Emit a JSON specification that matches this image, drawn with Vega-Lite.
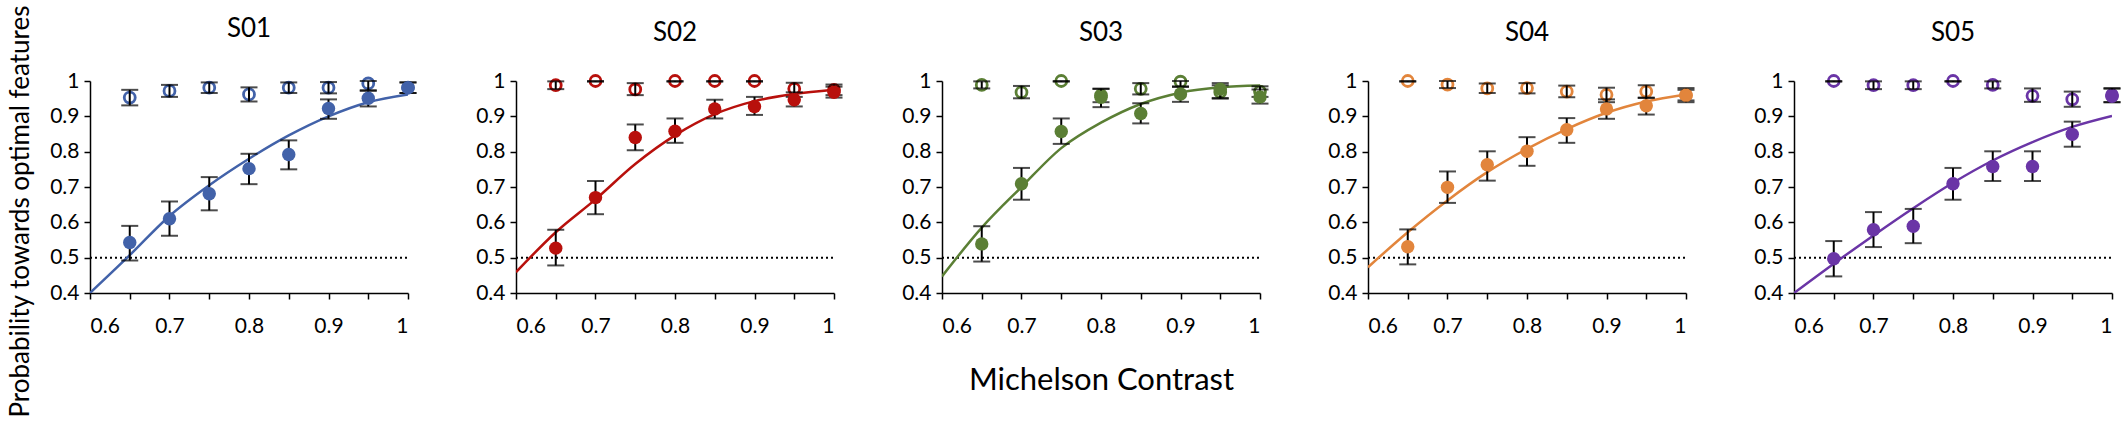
{
  "$schema": "https://vega.github.io/schema/vega-lite/v6.json",
  "background": "white",
  "padding": {"left": 6, "top": 4, "right": 5, "bottom": 5},
  "config": {
    "font": "Lato",
    "view": {"stroke": null},
    "axis": {
      "grid": false,
      "domainColor": "black",
      "domainWidth": 1.5,
      "tickColor": "black",
      "tickWidth": 1.5,
      "tickSize": 6,
      "labelFont": "Lato",
      "labelFontSize": 21,
      "labelColor": "black",
      "titleFont": "Lato",
      "titleColor": "black",
      "titleFontWeight": "normal"
    },
    "title": {"font": "Lato", "fontSize": 26, "fontWeight": "normal", "color": "black", "baseline": "alphabetic", "frame": "group", "offset": 24}
  },
  "data": {
    "values": [
      {"s": "S01", "t": "filled", "x": 0.65, "y": 0.543, "lo": 0.492, "hi": 0.59},
      {"s": "S01", "t": "filled", "x": 0.7, "y": 0.61, "lo": 0.562, "hi": 0.659},
      {"s": "S01", "t": "filled", "x": 0.75, "y": 0.681, "lo": 0.634, "hi": 0.728},
      {"s": "S01", "t": "filled", "x": 0.8, "y": 0.752, "lo": 0.708, "hi": 0.794},
      {"s": "S01", "t": "filled", "x": 0.85, "y": 0.792, "lo": 0.75, "hi": 0.832},
      {"s": "S01", "t": "filled", "x": 0.9, "y": 0.922, "lo": 0.893, "hi": 0.948},
      {"s": "S01", "t": "filled", "x": 0.95, "y": 0.951, "lo": 0.928, "hi": 0.972},
      {"s": "S01", "t": "filled", "x": 1.0, "y": 0.981, "lo": 0.966, "hi": 0.996},
      {"s": "S01", "t": "open", "x": 0.65, "y": 0.953, "lo": 0.931, "hi": 0.975},
      {"s": "S01", "t": "open", "x": 0.7, "y": 0.972, "lo": 0.955, "hi": 0.989},
      {"s": "S01", "t": "open", "x": 0.75, "y": 0.981, "lo": 0.966, "hi": 0.996},
      {"s": "S01", "t": "open", "x": 0.8, "y": 0.962, "lo": 0.942, "hi": 0.982},
      {"s": "S01", "t": "open", "x": 0.85, "y": 0.981, "lo": 0.966, "hi": 0.996},
      {"s": "S01", "t": "open", "x": 0.9, "y": 0.981, "lo": 0.965, "hi": 0.997},
      {"s": "S01", "t": "open", "x": 0.95, "y": 0.993, "lo": 0.974, "hi": 1.0},
      {"s": "S01", "t": "open", "x": 1.0, "y": 0.981, "lo": 0.966, "hi": 0.996},
      {"s": "S01", "t": "fit", "x": 0.6, "y": 0.4},
      {"s": "S01", "t": "fit", "x": 0.65, "y": 0.507},
      {"s": "S01", "t": "fit", "x": 0.7, "y": 0.618},
      {"s": "S01", "t": "fit", "x": 0.75, "y": 0.705},
      {"s": "S01", "t": "fit", "x": 0.8, "y": 0.78},
      {"s": "S01", "t": "fit", "x": 0.85, "y": 0.846},
      {"s": "S01", "t": "fit", "x": 0.9, "y": 0.9},
      {"s": "S01", "t": "fit", "x": 0.95, "y": 0.94},
      {"s": "S01", "t": "fit", "x": 1.0, "y": 0.962},

      {"s": "S02", "t": "filled", "x": 0.65, "y": 0.527, "lo": 0.478, "hi": 0.579},
      {"s": "S02", "t": "filled", "x": 0.7, "y": 0.67, "lo": 0.623, "hi": 0.717},
      {"s": "S02", "t": "filled", "x": 0.75, "y": 0.84, "lo": 0.804, "hi": 0.877},
      {"s": "S02", "t": "filled", "x": 0.8, "y": 0.858, "lo": 0.825, "hi": 0.894},
      {"s": "S02", "t": "filled", "x": 0.85, "y": 0.921, "lo": 0.894, "hi": 0.947},
      {"s": "S02", "t": "filled", "x": 0.9, "y": 0.928, "lo": 0.904, "hi": 0.955},
      {"s": "S02", "t": "filled", "x": 0.95, "y": 0.947, "lo": 0.928, "hi": 0.968},
      {"s": "S02", "t": "filled", "x": 1.0, "y": 0.968, "lo": 0.953, "hi": 0.984},
      {"s": "S02", "t": "open", "x": 0.65, "y": 0.988, "lo": 0.977, "hi": 0.999},
      {"s": "S02", "t": "open", "x": 0.7, "y": 1.0, "lo": 0.998, "hi": 1.0},
      {"s": "S02", "t": "open", "x": 0.75, "y": 0.976, "lo": 0.96, "hi": 0.994},
      {"s": "S02", "t": "open", "x": 0.8, "y": 1.0, "lo": 0.998, "hi": 1.0},
      {"s": "S02", "t": "open", "x": 0.85, "y": 1.0, "lo": 0.998, "hi": 1.0},
      {"s": "S02", "t": "open", "x": 0.9, "y": 1.0, "lo": 0.998, "hi": 1.0},
      {"s": "S02", "t": "open", "x": 0.95, "y": 0.978, "lo": 0.955, "hi": 0.995},
      {"s": "S02", "t": "open", "x": 1.0, "y": 0.975, "lo": 0.96, "hi": 0.99},
      {"s": "S02", "t": "fit", "x": 0.6, "y": 0.459},
      {"s": "S02", "t": "fit", "x": 0.65, "y": 0.572},
      {"s": "S02", "t": "fit", "x": 0.7, "y": 0.665},
      {"s": "S02", "t": "fit", "x": 0.75, "y": 0.765},
      {"s": "S02", "t": "fit", "x": 0.8, "y": 0.846},
      {"s": "S02", "t": "fit", "x": 0.85, "y": 0.906},
      {"s": "S02", "t": "fit", "x": 0.9, "y": 0.943},
      {"s": "S02", "t": "fit", "x": 0.95, "y": 0.963},
      {"s": "S02", "t": "fit", "x": 1.0, "y": 0.975},

      {"s": "S03", "t": "filled", "x": 0.65, "y": 0.539, "lo": 0.489, "hi": 0.589},
      {"s": "S03", "t": "filled", "x": 0.7, "y": 0.709, "lo": 0.664, "hi": 0.754},
      {"s": "S03", "t": "filled", "x": 0.75, "y": 0.857, "lo": 0.822, "hi": 0.894},
      {"s": "S03", "t": "filled", "x": 0.8, "y": 0.954, "lo": 0.926, "hi": 0.978},
      {"s": "S03", "t": "filled", "x": 0.85, "y": 0.908, "lo": 0.88, "hi": 0.937},
      {"s": "S03", "t": "filled", "x": 0.9, "y": 0.963, "lo": 0.941, "hi": 0.983},
      {"s": "S03", "t": "filled", "x": 0.95, "y": 0.977, "lo": 0.952, "hi": 0.994},
      {"s": "S03", "t": "filled", "x": 1.0, "y": 0.955, "lo": 0.936, "hi": 0.976},
      {"s": "S03", "t": "open", "x": 0.65, "y": 0.989, "lo": 0.979, "hi": 0.999},
      {"s": "S03", "t": "open", "x": 0.7, "y": 0.968, "lo": 0.951, "hi": 0.986},
      {"s": "S03", "t": "open", "x": 0.75, "y": 1.0, "lo": 0.998, "hi": 1.0},
      {"s": "S03", "t": "open", "x": 0.8, "y": 0.959, "lo": 0.94, "hi": 0.978},
      {"s": "S03", "t": "open", "x": 0.85, "y": 0.978, "lo": 0.962, "hi": 0.994},
      {"s": "S03", "t": "open", "x": 0.9, "y": 0.998, "lo": 0.985, "hi": 1.0},
      {"s": "S03", "t": "open", "x": 0.95, "y": 0.969, "lo": 0.95, "hi": 0.988},
      {"s": "S03", "t": "open", "x": 1.0, "y": 0.97, "lo": 0.955, "hi": 0.985},
      {"s": "S03", "t": "fit", "x": 0.6, "y": 0.447},
      {"s": "S03", "t": "fit", "x": 0.65, "y": 0.585},
      {"s": "S03", "t": "fit", "x": 0.7, "y": 0.7},
      {"s": "S03", "t": "fit", "x": 0.75, "y": 0.81},
      {"s": "S03", "t": "fit", "x": 0.8, "y": 0.882},
      {"s": "S03", "t": "fit", "x": 0.85, "y": 0.935},
      {"s": "S03", "t": "fit", "x": 0.9, "y": 0.967},
      {"s": "S03", "t": "fit", "x": 0.95, "y": 0.982},
      {"s": "S03", "t": "fit", "x": 1.0, "y": 0.987},

      {"s": "S04", "t": "filled", "x": 0.65, "y": 0.531, "lo": 0.481, "hi": 0.58},
      {"s": "S04", "t": "filled", "x": 0.7, "y": 0.699, "lo": 0.655, "hi": 0.744},
      {"s": "S04", "t": "filled", "x": 0.75, "y": 0.763, "lo": 0.718, "hi": 0.801},
      {"s": "S04", "t": "filled", "x": 0.8, "y": 0.801, "lo": 0.76, "hi": 0.841},
      {"s": "S04", "t": "filled", "x": 0.85, "y": 0.862, "lo": 0.825, "hi": 0.895},
      {"s": "S04", "t": "filled", "x": 0.9, "y": 0.921, "lo": 0.893, "hi": 0.948},
      {"s": "S04", "t": "filled", "x": 0.95, "y": 0.93, "lo": 0.905, "hi": 0.953},
      {"s": "S04", "t": "filled", "x": 1.0, "y": 0.96, "lo": 0.94, "hi": 0.98},
      {"s": "S04", "t": "open", "x": 0.65, "y": 1.0, "lo": 0.998, "hi": 1.0},
      {"s": "S04", "t": "open", "x": 0.7, "y": 0.99, "lo": 0.98, "hi": 1.0},
      {"s": "S04", "t": "open", "x": 0.75, "y": 0.979, "lo": 0.966, "hi": 0.993},
      {"s": "S04", "t": "open", "x": 0.8, "y": 0.98, "lo": 0.965, "hi": 0.994},
      {"s": "S04", "t": "open", "x": 0.85, "y": 0.97, "lo": 0.954, "hi": 0.987},
      {"s": "S04", "t": "open", "x": 0.9, "y": 0.961, "lo": 0.94, "hi": 0.981},
      {"s": "S04", "t": "open", "x": 0.95, "y": 0.97, "lo": 0.952, "hi": 0.988},
      {"s": "S04", "t": "open", "x": 1.0, "y": 0.96, "lo": 0.945, "hi": 0.975},
      {"s": "S04", "t": "fit", "x": 0.6, "y": 0.473},
      {"s": "S04", "t": "fit", "x": 0.65, "y": 0.572},
      {"s": "S04", "t": "fit", "x": 0.7, "y": 0.662},
      {"s": "S04", "t": "fit", "x": 0.75, "y": 0.742},
      {"s": "S04", "t": "fit", "x": 0.8, "y": 0.808},
      {"s": "S04", "t": "fit", "x": 0.85, "y": 0.864},
      {"s": "S04", "t": "fit", "x": 0.9, "y": 0.91},
      {"s": "S04", "t": "fit", "x": 0.95, "y": 0.942},
      {"s": "S04", "t": "fit", "x": 1.0, "y": 0.962},

      {"s": "S05", "t": "filled", "x": 0.65, "y": 0.497, "lo": 0.447, "hi": 0.547},
      {"s": "S05", "t": "filled", "x": 0.7, "y": 0.579, "lo": 0.53, "hi": 0.629},
      {"s": "S05", "t": "filled", "x": 0.75, "y": 0.589, "lo": 0.541, "hi": 0.638},
      {"s": "S05", "t": "filled", "x": 0.8, "y": 0.709, "lo": 0.664, "hi": 0.754},
      {"s": "S05", "t": "filled", "x": 0.85, "y": 0.758, "lo": 0.717, "hi": 0.801},
      {"s": "S05", "t": "filled", "x": 0.9, "y": 0.758, "lo": 0.717, "hi": 0.801},
      {"s": "S05", "t": "filled", "x": 0.95, "y": 0.849, "lo": 0.814, "hi": 0.885},
      {"s": "S05", "t": "filled", "x": 1.0, "y": 0.957, "lo": 0.94, "hi": 0.978},
      {"s": "S05", "t": "open", "x": 0.65, "y": 1.0, "lo": 0.998, "hi": 1.0},
      {"s": "S05", "t": "open", "x": 0.7, "y": 0.988, "lo": 0.977, "hi": 0.999},
      {"s": "S05", "t": "open", "x": 0.75, "y": 0.988, "lo": 0.977, "hi": 0.999},
      {"s": "S05", "t": "open", "x": 0.8, "y": 1.0, "lo": 0.998, "hi": 1.0},
      {"s": "S05", "t": "open", "x": 0.85, "y": 0.989, "lo": 0.979, "hi": 0.999},
      {"s": "S05", "t": "open", "x": 0.9, "y": 0.958, "lo": 0.941, "hi": 0.979},
      {"s": "S05", "t": "open", "x": 0.95, "y": 0.948, "lo": 0.927, "hi": 0.97},
      {"s": "S05", "t": "open", "x": 1.0, "y": 0.96, "lo": 0.94, "hi": 0.98},
      {"s": "S05", "t": "fit", "x": 0.6, "y": 0.4},
      {"s": "S05", "t": "fit", "x": 0.65, "y": 0.483},
      {"s": "S05", "t": "fit", "x": 0.7, "y": 0.563},
      {"s": "S05", "t": "fit", "x": 0.75, "y": 0.64},
      {"s": "S05", "t": "fit", "x": 0.8, "y": 0.712},
      {"s": "S05", "t": "fit", "x": 0.85, "y": 0.775},
      {"s": "S05", "t": "fit", "x": 0.9, "y": 0.827},
      {"s": "S05", "t": "fit", "x": 0.95, "y": 0.87},
      {"s": "S05", "t": "fit", "x": 1.0, "y": 0.901}
    ]
  },
  "spacing": 108,
  "bounds": "flush",
  "hconcat": [
    {
      "title": {"text": "S01", "dy": 61},
      "width": 318,
      "height": 212,
      "transform": [{"filter": "datum.s === 'S01'"}],
      "encoding": {
        "x": {"field": "x", "type": "quantitative", "scale": {"domain": [0.6, 1]},
          "axis": {"title": null, "values": [0.6, 0.65, 0.7, 0.75, 0.8, 0.85, 0.9, 0.95, 1], "labelExpr": "round(datum.value * 100) % 10 === 0 ? format(datum.value, '.1~f') : ''", "labelPadding": 16}},
        "y": {"field": "y", "type": "quantitative", "scale": {"domain": [0.4, 1]},
          "axis": {"title": "Probability towards optimal features", "titleFontSize": 26, "titleX": -62, "titleY": 130, "titleBaseline": "alphabetic", "values": [0.4, 0.5, 0.6, 0.7, 0.8, 0.9, 1], "format": ".1~f", "labelPadding": 5}},
        "color": {"field": "s", "type": "nominal", "legend": null,
          "scale": {"domain": ["S01", "S02", "S03", "S04", "S05"], "range": ["#4262A9", "#B8100C", "#5B7F35", "#E2853C", "#6A35A6"]}}
      },
      "layer": [
        {"transform": [{"filter": "datum.t === 'fit' && datum.x === 0.6"}], "mark": {"type": "rule", "color": "black", "strokeWidth": 2, "strokeDash": [2, 3]},
          "encoding": {"x": {"datum": 0.6}, "x2": {"datum": 1}, "y": {"datum": 0.5}, "color": {"value": "black"}}},
        {"transform": [{"filter": "datum.t === 'fit'"}], "mark": {"type": "line", "strokeWidth": 2.5, "interpolate": "monotone", "clip": true}},
        {"transform": [{"filter": "datum.t === 'open'"}], "mark": {"type": "point", "filled": false, "strokeWidth": 2.8, "size": 120, "opacity": 1}},
        {"transform": [{"filter": "datum.t !== 'fit'"}], "mark": {"type": "rule", "strokeWidth": 2},
          "encoding": {"y": {"field": "lo", "type": "quantitative"}, "y2": {"field": "hi"}, "color": {"value": "black"}}},
        {"transform": [{"filter": "datum.t !== 'fit'"}], "mark": {"type": "tick", "orient": "horizontal", "size": 17, "thickness": 2},
          "encoding": {"y": {"field": "lo", "type": "quantitative"}, "color": {"value": "black"}}},
        {"transform": [{"filter": "datum.t !== 'fit'"}], "mark": {"type": "tick", "orient": "horizontal", "size": 17, "thickness": 2},
          "encoding": {"y": {"field": "hi", "type": "quantitative"}, "color": {"value": "black"}}},
        {"transform": [{"filter": "datum.t === 'filled'"}], "mark": {"type": "circle", "size": 180, "opacity": 1}}
      ]
    },
    {
      "title": "S02",
      "width": 318,
      "height": 212,
      "transform": [{"filter": "datum.s === 'S02'"}],
      "encoding": {
        "x": {"field": "x", "type": "quantitative", "scale": {"domain": [0.6, 1]},
          "axis": {"title": null, "values": [0.6, 0.65, 0.7, 0.75, 0.8, 0.85, 0.9, 0.95, 1], "labelExpr": "round(datum.value * 100) % 10 === 0 ? format(datum.value, '.1~f') : ''", "labelPadding": 16}},
        "y": {"field": "y", "type": "quantitative", "scale": {"domain": [0.4, 1]},
          "axis": {"title": null, "values": [0.4, 0.5, 0.6, 0.7, 0.8, 0.9, 1], "format": ".1~f", "labelPadding": 5}},
        "color": {"field": "s", "type": "nominal", "legend": null,
          "scale": {"domain": ["S01", "S02", "S03", "S04", "S05"], "range": ["#4262A9", "#B8100C", "#5B7F35", "#E2853C", "#6A35A6"]}}
      },
      "layer": [
        {"transform": [{"filter": "datum.t === 'fit' && datum.x === 0.6"}], "mark": {"type": "rule", "color": "black", "strokeWidth": 2, "strokeDash": [2, 3]},
          "encoding": {"x": {"datum": 0.6}, "x2": {"datum": 1}, "y": {"datum": 0.5}, "color": {"value": "black"}}},
        {"transform": [{"filter": "datum.t === 'fit'"}], "mark": {"type": "line", "strokeWidth": 2.5, "interpolate": "monotone", "clip": true}},
        {"transform": [{"filter": "datum.t === 'open'"}], "mark": {"type": "point", "filled": false, "strokeWidth": 2.8, "size": 120, "opacity": 1}},
        {"transform": [{"filter": "datum.t !== 'fit'"}], "mark": {"type": "rule", "strokeWidth": 2},
          "encoding": {"y": {"field": "lo", "type": "quantitative"}, "y2": {"field": "hi"}, "color": {"value": "black"}}},
        {"transform": [{"filter": "datum.t !== 'fit'"}], "mark": {"type": "tick", "orient": "horizontal", "size": 17, "thickness": 2},
          "encoding": {"y": {"field": "lo", "type": "quantitative"}, "color": {"value": "black"}}},
        {"transform": [{"filter": "datum.t !== 'fit'"}], "mark": {"type": "tick", "orient": "horizontal", "size": 17, "thickness": 2},
          "encoding": {"y": {"field": "hi", "type": "quantitative"}, "color": {"value": "black"}}},
        {"transform": [{"filter": "datum.t === 'filled'"}], "mark": {"type": "circle", "size": 180, "opacity": 1}}
      ]
    },
    {
      "title": "S03",
      "width": 318,
      "height": 212,
      "transform": [{"filter": "datum.s === 'S03'"}],
      "encoding": {
        "x": {"field": "x", "type": "quantitative", "scale": {"domain": [0.6, 1]},
          "axis": {"title": "Michelson Contrast", "titleFontSize": 31, "titleY": 96, "titleBaseline": "alphabetic", "values": [0.6, 0.65, 0.7, 0.75, 0.8, 0.85, 0.9, 0.95, 1], "labelExpr": "round(datum.value * 100) % 10 === 0 ? format(datum.value, '.1~f') : ''", "labelPadding": 16}},
        "y": {"field": "y", "type": "quantitative", "scale": {"domain": [0.4, 1]},
          "axis": {"title": null, "values": [0.4, 0.5, 0.6, 0.7, 0.8, 0.9, 1], "format": ".1~f", "labelPadding": 5}},
        "color": {"field": "s", "type": "nominal", "legend": null,
          "scale": {"domain": ["S01", "S02", "S03", "S04", "S05"], "range": ["#4262A9", "#B8100C", "#5B7F35", "#E2853C", "#6A35A6"]}}
      },
      "layer": [
        {"transform": [{"filter": "datum.t === 'fit' && datum.x === 0.6"}], "mark": {"type": "rule", "color": "black", "strokeWidth": 2, "strokeDash": [2, 3]},
          "encoding": {"x": {"datum": 0.6}, "x2": {"datum": 1}, "y": {"datum": 0.5}, "color": {"value": "black"}}},
        {"transform": [{"filter": "datum.t === 'fit'"}], "mark": {"type": "line", "strokeWidth": 2.5, "interpolate": "monotone", "clip": true}},
        {"transform": [{"filter": "datum.t === 'open'"}], "mark": {"type": "point", "filled": false, "strokeWidth": 2.8, "size": 120, "opacity": 1}},
        {"transform": [{"filter": "datum.t !== 'fit'"}], "mark": {"type": "rule", "strokeWidth": 2},
          "encoding": {"y": {"field": "lo", "type": "quantitative"}, "y2": {"field": "hi"}, "color": {"value": "black"}}},
        {"transform": [{"filter": "datum.t !== 'fit'"}], "mark": {"type": "tick", "orient": "horizontal", "size": 17, "thickness": 2},
          "encoding": {"y": {"field": "lo", "type": "quantitative"}, "color": {"value": "black"}}},
        {"transform": [{"filter": "datum.t !== 'fit'"}], "mark": {"type": "tick", "orient": "horizontal", "size": 17, "thickness": 2},
          "encoding": {"y": {"field": "hi", "type": "quantitative"}, "color": {"value": "black"}}},
        {"transform": [{"filter": "datum.t === 'filled'"}], "mark": {"type": "circle", "size": 180, "opacity": 1}}
      ]
    },
    {
      "title": "S04",
      "width": 318,
      "height": 212,
      "transform": [{"filter": "datum.s === 'S04'"}],
      "encoding": {
        "x": {"field": "x", "type": "quantitative", "scale": {"domain": [0.6, 1]},
          "axis": {"title": null, "values": [0.6, 0.65, 0.7, 0.75, 0.8, 0.85, 0.9, 0.95, 1], "labelExpr": "round(datum.value * 100) % 10 === 0 ? format(datum.value, '.1~f') : ''", "labelPadding": 16}},
        "y": {"field": "y", "type": "quantitative", "scale": {"domain": [0.4, 1]},
          "axis": {"title": null, "values": [0.4, 0.5, 0.6, 0.7, 0.8, 0.9, 1], "format": ".1~f", "labelPadding": 5}},
        "color": {"field": "s", "type": "nominal", "legend": null,
          "scale": {"domain": ["S01", "S02", "S03", "S04", "S05"], "range": ["#4262A9", "#B8100C", "#5B7F35", "#E2853C", "#6A35A6"]}}
      },
      "layer": [
        {"transform": [{"filter": "datum.t === 'fit' && datum.x === 0.6"}], "mark": {"type": "rule", "color": "black", "strokeWidth": 2, "strokeDash": [2, 3]},
          "encoding": {"x": {"datum": 0.6}, "x2": {"datum": 1}, "y": {"datum": 0.5}, "color": {"value": "black"}}},
        {"transform": [{"filter": "datum.t === 'fit'"}], "mark": {"type": "line", "strokeWidth": 2.5, "interpolate": "monotone", "clip": true}},
        {"transform": [{"filter": "datum.t === 'open'"}], "mark": {"type": "point", "filled": false, "strokeWidth": 2.8, "size": 120, "opacity": 1}},
        {"transform": [{"filter": "datum.t !== 'fit'"}], "mark": {"type": "rule", "strokeWidth": 2},
          "encoding": {"y": {"field": "lo", "type": "quantitative"}, "y2": {"field": "hi"}, "color": {"value": "black"}}},
        {"transform": [{"filter": "datum.t !== 'fit'"}], "mark": {"type": "tick", "orient": "horizontal", "size": 17, "thickness": 2},
          "encoding": {"y": {"field": "lo", "type": "quantitative"}, "color": {"value": "black"}}},
        {"transform": [{"filter": "datum.t !== 'fit'"}], "mark": {"type": "tick", "orient": "horizontal", "size": 17, "thickness": 2},
          "encoding": {"y": {"field": "hi", "type": "quantitative"}, "color": {"value": "black"}}},
        {"transform": [{"filter": "datum.t === 'filled'"}], "mark": {"type": "circle", "size": 180, "opacity": 1}}
      ]
    },
    {
      "title": "S05",
      "width": 318,
      "height": 212,
      "transform": [{"filter": "datum.s === 'S05'"}],
      "encoding": {
        "x": {"field": "x", "type": "quantitative", "scale": {"domain": [0.6, 1]},
          "axis": {"title": null, "values": [0.6, 0.65, 0.7, 0.75, 0.8, 0.85, 0.9, 0.95, 1], "labelExpr": "round(datum.value * 100) % 10 === 0 ? format(datum.value, '.1~f') : ''", "labelPadding": 16}},
        "y": {"field": "y", "type": "quantitative", "scale": {"domain": [0.4, 1]},
          "axis": {"title": null, "values": [0.4, 0.5, 0.6, 0.7, 0.8, 0.9, 1], "format": ".1~f", "labelPadding": 5}},
        "color": {"field": "s", "type": "nominal", "legend": null,
          "scale": {"domain": ["S01", "S02", "S03", "S04", "S05"], "range": ["#4262A9", "#B8100C", "#5B7F35", "#E2853C", "#6A35A6"]}}
      },
      "layer": [
        {"transform": [{"filter": "datum.t === 'fit' && datum.x === 0.6"}], "mark": {"type": "rule", "color": "black", "strokeWidth": 2, "strokeDash": [2, 3]},
          "encoding": {"x": {"datum": 0.6}, "x2": {"datum": 1}, "y": {"datum": 0.5}, "color": {"value": "black"}}},
        {"transform": [{"filter": "datum.t === 'fit'"}], "mark": {"type": "line", "strokeWidth": 2.5, "interpolate": "monotone", "clip": true}},
        {"transform": [{"filter": "datum.t === 'open'"}], "mark": {"type": "point", "filled": false, "strokeWidth": 2.8, "size": 120, "opacity": 1}},
        {"transform": [{"filter": "datum.t !== 'fit'"}], "mark": {"type": "rule", "strokeWidth": 2},
          "encoding": {"y": {"field": "lo", "type": "quantitative"}, "y2": {"field": "hi"}, "color": {"value": "black"}}},
        {"transform": [{"filter": "datum.t !== 'fit'"}], "mark": {"type": "tick", "orient": "horizontal", "size": 17, "thickness": 2},
          "encoding": {"y": {"field": "lo", "type": "quantitative"}, "color": {"value": "black"}}},
        {"transform": [{"filter": "datum.t !== 'fit'"}], "mark": {"type": "tick", "orient": "horizontal", "size": 17, "thickness": 2},
          "encoding": {"y": {"field": "hi", "type": "quantitative"}, "color": {"value": "black"}}},
        {"transform": [{"filter": "datum.t === 'filled'"}], "mark": {"type": "circle", "size": 180, "opacity": 1}}
      ]
    }
  ]
}
